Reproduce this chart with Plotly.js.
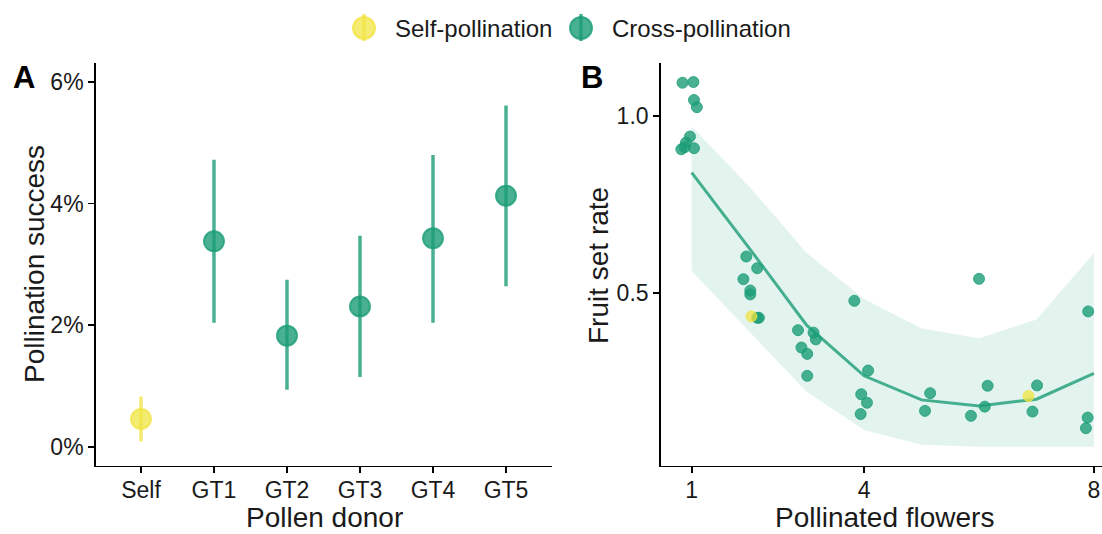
<!DOCTYPE html>
<html>
<head>
<meta charset="utf-8">
<script src="https://cdn.plot.ly/plotly-3.0.1.min.js"></script>
<style>
  html, body { margin: 0; padding: 0; background: #fff; }
  #chart { width: 1102px; height: 534px; }
</style>
</head>
<body>
<div id="chart"></div>
<script>
// Panel A: pollination success by pollen donor (percent, with interval)
const donors = ['Self', 'GT1', 'GT2', 'GT3', 'GT4', 'GT5'];
const successPct = [0.46, 3.38, 1.83, 2.31, 3.43, 4.13];
const successLow = [0.09, 2.04, 0.94, 1.15, 2.04, 2.64];
const successHigh = [0.83, 4.72, 2.75, 3.47, 4.80, 5.61];
const pctTickVals = [0, 2, 4, 6];
const pctTickText = ['0%', '2%', '4%', '6%'];

// Panel B: fruit set rate vs number of pollinated flowers
const crossFlowers = [0.84, 1.03, 1.04, 1.09, 0.97, 0.90, 0.82, 0.88, 1.04,
  1.95, 2.14, 1.90, 2.02, 2.02, 2.14, 2.17,
  2.85, 3.12, 3.16, 2.91, 3.01, 3.01,
  3.83, 4.07, 3.95, 4.05, 3.94,
  5.15, 5.06,
  5.86, 6.10, 6.15, 6.00,
  7.01, 6.93,
  7.90, 7.89, 7.86];
const crossFruitSet = [1.094, 1.096, 1.045, 1.025, 0.942, 0.925, 0.906, 0.912, 0.909,
  0.603, 0.570, 0.539, 0.507, 0.496, 0.430, 0.430,
  0.395, 0.388, 0.369, 0.346, 0.328, 0.266,
  0.478, 0.281, 0.214, 0.190, 0.158,
  0.217, 0.167,
  0.153, 0.179, 0.238, 0.540,
  0.239, 0.165,
  0.448, 0.148, 0.118];
const selfFlowers = [2.04, 6.86];
const selfFruitSet = [0.434, 0.209];
const flowerTicks = [1, 4, 8];
const rateTicks = [0.5, 1.0];

// Fitted curve and its confidence band
const fitFlowers = [1, 2, 3, 4, 5, 6, 7, 8];
const fitRate = [0.840, 0.627, 0.409, 0.266, 0.198, 0.181, 0.200, 0.273];
const fitUpper = [0.970, 0.801, 0.613, 0.483, 0.400, 0.372, 0.425, 0.613];
const fitLower = [0.562, 0.393, 0.221, 0.113, 0.071, 0.066, 0.066, 0.066];

const legendNames = ['Self-pollination', 'Cross-pollination'];

const GREEN = 'rgba(27,158,119,0.8)';
const GREEN_LINE = 'rgba(27,158,119,0.8)';
const YELLOW = 'rgba(240,228,66,0.75)';
const FONT = 'Liberation Sans, Arial, sans-serif';
const INK = '#1a1a1a';

const W = 1102, H = 534;
const px = v => v / W;
const py = v => 1 - v / H;

const colorsA = donors.map(d => d === 'Self' ? YELLOW : GREEN);

const traces = [];
// one trace per donor so each interval keeps its own colour
donors.forEach((d, i) => {
  const c = colorsA[i];
  traces.push({
    type: 'scatter', mode: 'markers', xaxis: 'x', yaxis: 'y',
    x: [d], y: [successPct[i]],
    error_y: {
      type: 'data', symmetric: false,
      array: [successHigh[i] - successPct[i]],
      arrayminus: [successPct[i] - successLow[i]],
      color: c, thickness: 3.5, width: 0
    },
    marker: { size: 20, color: c, line: { color: c, width: 2 } },
    showlegend: false, hoverinfo: 'x+y'
  });
});

// confidence band
traces.push({
  type: 'scatter', mode: 'lines', xaxis: 'x2', yaxis: 'y2',
  x: fitFlowers, y: fitLower, line: { width: 0, color: 'rgba(0,0,0,0)' },
  showlegend: false, hoverinfo: 'skip'
});
traces.push({
  type: 'scatter', mode: 'lines', xaxis: 'x2', yaxis: 'y2',
  x: fitFlowers, y: fitUpper, fill: 'tonexty',
  fillcolor: 'rgba(27,158,119,0.12)', line: { width: 0, color: 'rgba(0,0,0,0)' },
  showlegend: false, hoverinfo: 'skip'
});
traces.push({
  type: 'scatter', mode: 'lines', xaxis: 'x2', yaxis: 'y2',
  x: fitFlowers, y: fitRate, line: { width: 3, color: GREEN_LINE },
  showlegend: false
});
traces.push({
  type: 'scatter', mode: 'markers', xaxis: 'x2', yaxis: 'y2',
  x: crossFlowers, y: crossFruitSet,
  marker: { size: 11, color: GREEN, line: { color: GREEN, width: 1 } },
  showlegend: false, name: legendNames[1]
});
traces.push({
  type: 'scatter', mode: 'markers', xaxis: 'x2', yaxis: 'y2',
  x: selfFlowers, y: selfFruitSet,
  marker: { size: 11, color: YELLOW, line: { color: YELLOW, width: 1 } },
  showlegend: false, name: legendNames[0]
});

const axisCommon = {
  showline: true, linecolor: '#000', linewidth: 1.8,
  ticks: 'outside', ticklen: 6, tickwidth: 1.8, tickcolor: '#000',
  showgrid: false, zeroline: false,
  tickfont: { family: FONT, size: 23, color: INK },
  fixedrange: true
};

// legend glyphs: circle with a vertical interval line
const legendItems = [
  { cx: 364, color: YELLOW, label: legendNames[0], tx: 393 },
  { cx: 581, color: GREEN, label: legendNames[1], tx: 610 }
];
const shapes = [];
const annotations = [];
legendItems.forEach(it => {
  shapes.push({
    type: 'line', xref: 'paper', yref: 'paper',
    x0: px(it.cx), x1: px(it.cx), y0: py(14), y1: py(41),
    line: { color: it.color, width: 3.5 }
  });
  shapes.push({
    type: 'circle', xref: 'paper', yref: 'paper',
    x0: px(it.cx - 11), x1: px(it.cx + 11), y0: py(17), y1: py(39),
    fillcolor: it.color, line: { color: it.color, width: 2 }
  });
  annotations.push({
    xref: 'paper', yref: 'paper', x: px(it.tx), y: py(28),
    xanchor: 'left', yanchor: 'middle', showarrow: false,
    text: it.label, font: { family: FONT, size: 24, color: INK }
  });
});

const titleFont = { family: FONT, size: 28, color: INK };
annotations.push(
  { xref: 'paper', yref: 'paper', x: px(324), y: py(517), text: 'Pollen donor',
    showarrow: false, xanchor: 'center', yanchor: 'middle', font: titleFont },
  { xref: 'paper', yref: 'paper', x: px(34), y: py(264), text: 'Pollination success',
    showarrow: false, xanchor: 'center', yanchor: 'middle', textangle: -90, font: titleFont },
  { xref: 'paper', yref: 'paper', x: px(884), y: py(517), text: 'Pollinated flowers',
    showarrow: false, xanchor: 'center', yanchor: 'middle', font: titleFont },
  { xref: 'paper', yref: 'paper', x: px(598), y: py(265), text: 'Fruit set rate',
    showarrow: false, xanchor: 'center', yanchor: 'middle', textangle: -90, font: titleFont },
  { xref: 'paper', yref: 'paper', x: px(24), y: py(77), text: '<b>A</b>',
    showarrow: false, xanchor: 'center', yanchor: 'middle',
    font: { family: FONT, size: 31, color: '#000' } },
  { xref: 'paper', yref: 'paper', x: px(592), y: py(77), text: '<b>B</b>',
    showarrow: false, xanchor: 'center', yanchor: 'middle',
    font: { family: FONT, size: 31, color: '#000' } }
);

const layout = {
  width: W, height: H,
  margin: { l: 0, r: 0, t: 0, b: 0, pad: 0 },
  paper_bgcolor: '#fff', plot_bgcolor: '#fff',
  showlegend: false,
  font: { family: FONT, color: INK },
  xaxis: Object.assign({}, axisCommon, {
    domain: [px(96), px(552)], anchor: 'y',
    type: 'category', categoryarray: donors, categoryorder: 'array',
    range: [-0.616, 5.63], ticklabelstandoff: -3
  }),
  yaxis: Object.assign({}, axisCommon, {
    domain: [py(465.5), py(63)], anchor: 'x',
    range: [-0.304, 6.31], tickmode: 'array',
    tickvals: pctTickVals, ticktext: pctTickText
  }),
  xaxis2: Object.assign({}, axisCommon, {
    domain: [px(661), 1], anchor: 'y2',
    range: [0.466, 8.14], tickmode: 'array', tickvals: flowerTicks,
    ticklabelstandoff: -3
  }),
  yaxis2: Object.assign({}, axisCommon, {
    domain: [py(465.5), py(63)], anchor: 'x2',
    range: [0.0127, 1.1497], tickmode: 'array', tickvals: rateTicks, tickformat: '.1f'
  }),
  shapes: shapes,
  annotations: annotations
};

Plotly.newPlot('chart', traces, layout, { displayModeBar: false, staticPlot: true });
</script>
</body>
</html>
